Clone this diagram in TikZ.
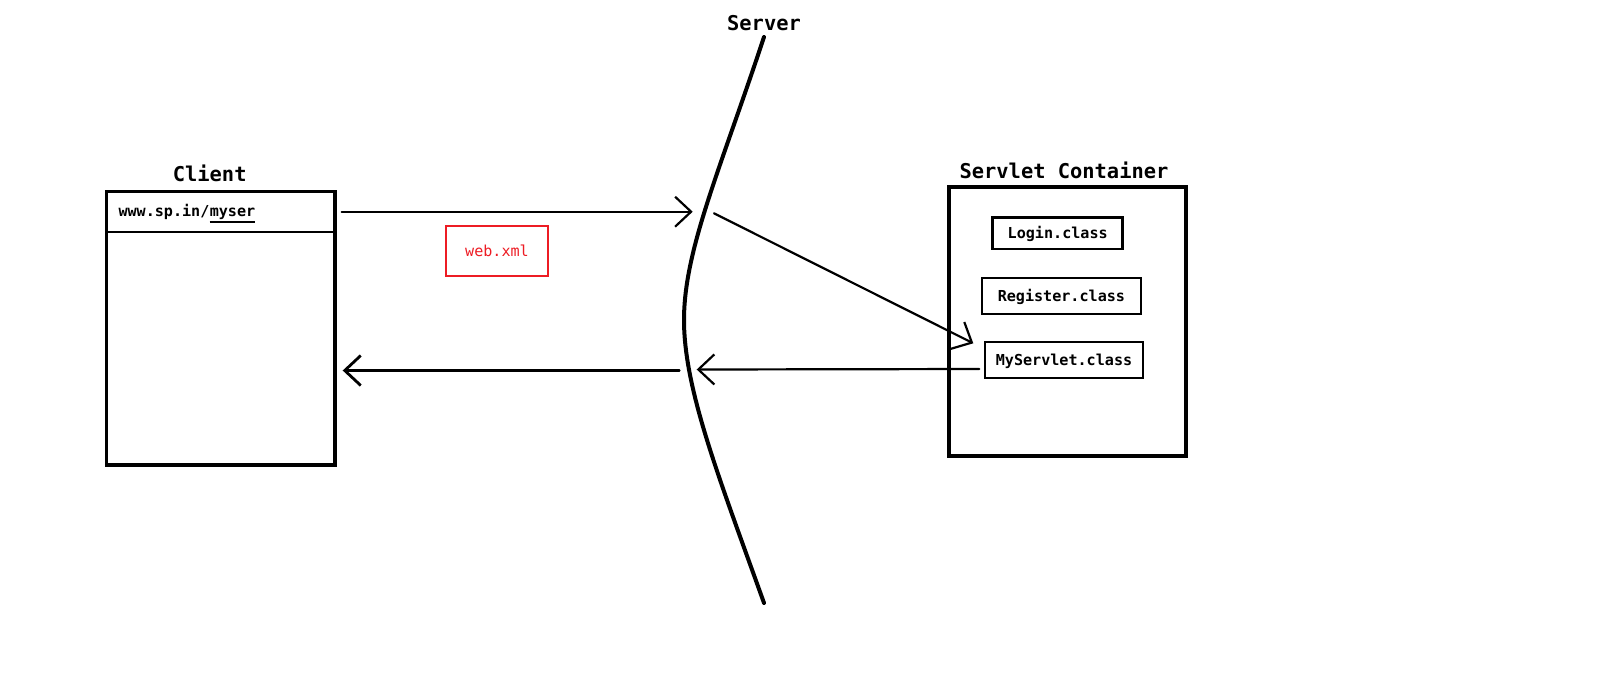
\documentclass[tikz,border=0pt]{standalone}
\usepackage{fontspec}
\setmonofont{DejaVu Sans Mono}
\usetikzlibrary{arrows.meta}
\definecolor{paintred}{RGB}{237,28,36}
\begin{document}
\begin{tikzpicture}[x=1pt,y=-1pt,
  title/.style={font=\fontsize{20.4}{24}\ttfamily\bfseries, inner sep=0, anchor=base},
  small/.style={font=\fontsize{15.1}{18}\ttfamily\bfseries},
  bigbox/.style={draw, line width=3.5pt, inner sep=0, outer sep=0},
  classbox/.style={draw, line width=2.5pt, small, inner sep=0, text height=10.9pt, text depth=0pt},
  conn/.style={line width=2.2pt, -{Straight Barb[length=16pt,width=30pt]}, line cap=round, line join=round},
]
\fill[white] (0,0) rectangle (1600,678);
\useasboundingbox (0,0) rectangle (1600,678);

% Client
\node[bigbox, minimum width=228.5pt, minimum height=273.5pt] (client) at (220.75,328.25) {};
\node[title] (clientlbl) at (209.7,181.7) {Client};
\draw[line width=2pt] ([yshift=-40.2pt]client.north west) -- ([yshift=-40.2pt]client.north east);
\node[small, anchor=base west, inner sep=0] (url) at (118.3,216.7) {www.sp.in/};
\node[small, anchor=base west, inner sep=0] (myser) at (url.base east) {myser};
\draw[line width=2pt] ([yshift=-2pt]myser.south west) -- ([yshift=-2pt]myser.south east);

% web.xml
\node[draw=paintred, line width=2pt, minimum width=101.7pt, minimum height=50pt, text=paintred,
      font=\fontsize{15.1}{18}\ttfamily, text height=10.9pt, text depth=0pt, inner sep=0] (webxml) at (497,251) {web.xml};

% Server
\coordinate (stop) at (764,37);
\coordinate (sbot) at (764,603);
\draw[line width=4pt, line cap=round] (stop) .. controls (720,170) and (684,250) .. (684,320)
      .. controls (684,390) and (720,480) .. (sbot);
\node[title] (serverlbl) at (764,30) {Server};

% Servlet container
\node[bigbox, minimum width=237pt, minimum height=269pt] (container) at (1067.5,321.5) {};
\node[title] (containerlbl) at (1064,178.3) {Servlet Container};
\node[classbox, minimum width=130pt, minimum height=31.7pt] (login) at (1057.7,233.2) {Login.class};
\node[classbox, minimum width=159.3pt, minimum height=36.3pt] (register) at (1061.4,295.9) {Register.class};
\node[classbox, minimum width=158pt, minimum height=36.3pt] (myservlet) at (1064,359.9) {MyServlet.class};

% connectors
\coordinate (a1s) at (341.7,211.7); \coordinate (a1e) at (692.7,211.7);
\coordinate (a2s) at (714,213.3);   \coordinate (a2e) at (973.3,343.3);
\coordinate (a3s) at (979.3,369);   \coordinate (a3e) at (696.7,369.5);
\coordinate (a4s) at (679.3,370.5); \coordinate (a4e) at (342.7,370.5);
\draw[conn] (a1s) -- (a1e);
\draw[conn] (a2s) -- (a2e);
\draw[conn] (a3s) -- (a3e);
\draw[conn, line width=2.8pt] (a4s) -- (a4e);
\end{tikzpicture}
\end{document}
